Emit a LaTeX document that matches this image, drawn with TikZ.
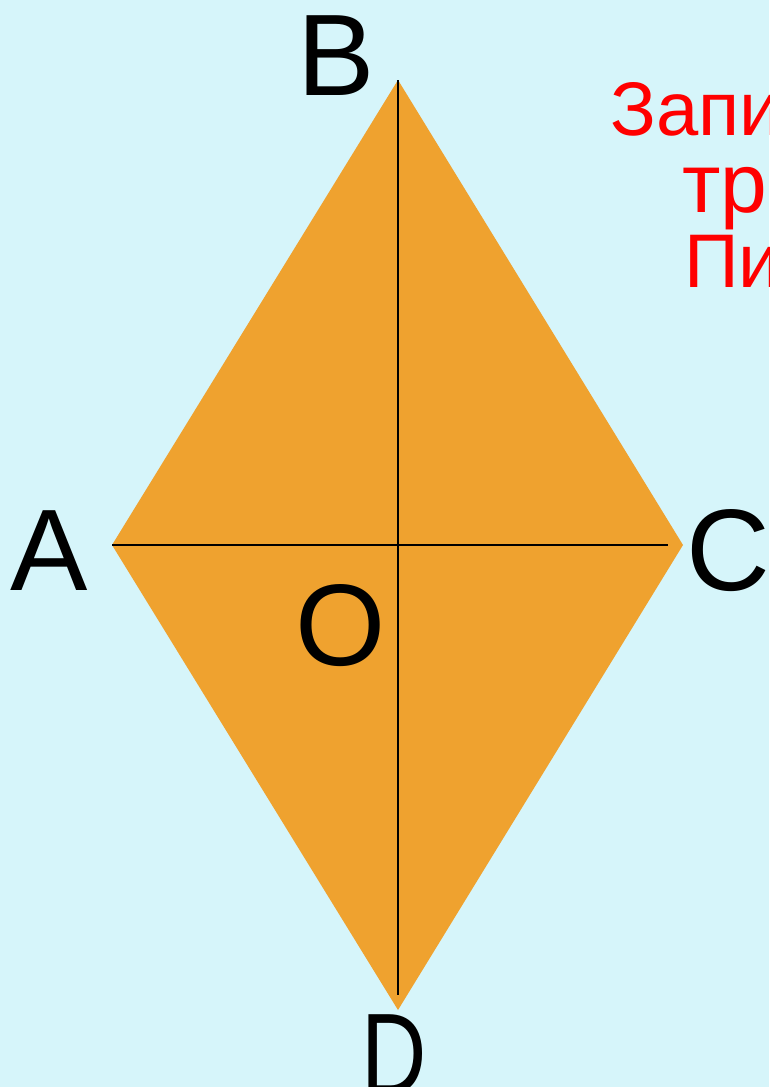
\documentclass[tikz,border=0pt]{standalone}
\usepackage{fontspec}
\usepackage{graphicx}
\setmainfont{Liberation Sans}
\definecolor{bgcol}{RGB}{214,245,250}
\definecolor{rhomb}{RGB}{239,162,47}
\definecolor{redtxt}{RGB}{255,0,0}
\tikzset{
  vlabel/.style={inner sep=0pt, anchor=base, font=\fontsize{116}{116}\selectfont, text=black},
  rtext/.style={inner sep=0pt, anchor=base west, font=\fontsize{76}{76}\selectfont, text=redtxt},
  diag/.style={line width=2pt, black}
}
\begin{document}
\begin{tikzpicture}[x=1pt,y=-1pt]
\useasboundingbox (0,0) rectangle (769,1087);
\clip (0,0) rectangle (769,1087);
\fill[bgcol] (0,0) rectangle (769,1087);
\coordinate (A) at (112,545);
\coordinate (B) at (398,80);
\coordinate (C) at (683,545);
\coordinate (D) at (398,1010);
\coordinate (Cend) at (668,545);
\coordinate (Dend) at (398,995);
\fill[rhomb] (A) -- (B) -- (C) -- (D) -- cycle;
\draw[diag] (B) -- (Dend);
\draw[diag] (A) -- (Cend);
\node[vlabel] (lB) at (336,95) {B};
\node[vlabel] (lA) at (49,590) {A};
\node[vlabel] (lC) at (728,590) {C};
\node[vlabel] (lO) at (341,665) {O};
\node[vlabel] (lD) at (394,1094) {\scalebox{0.78}[1]{D}};
\node[rtext] (t1) at (610,135) {Запишите};
\node[rtext, font=\fontsize{84}{84}\selectfont] (t2) at (682,212) {треугольник};
\node[rtext] (t3) at (684,287) {Пифагора};
\end{tikzpicture}
\end{document}
